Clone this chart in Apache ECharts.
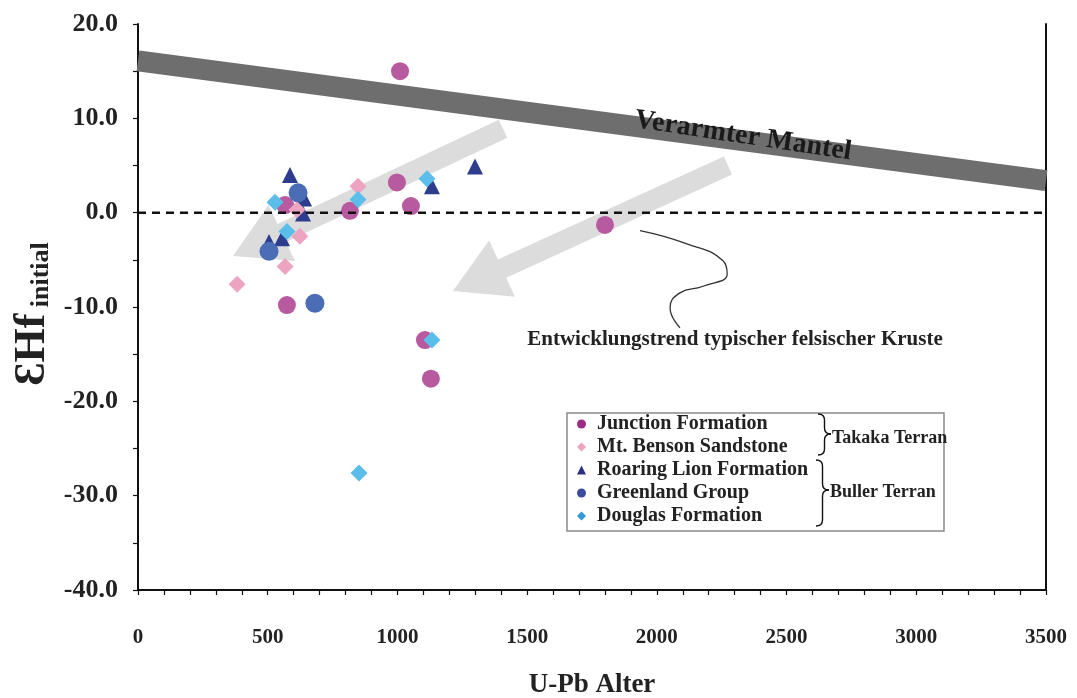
<!DOCTYPE html>
<html>
<head>
<meta charset="utf-8">
<script src="https://cdn.jsdelivr.net/npm/echarts@6/dist/echarts.min.js"></script>
<style>
  html, body { margin: 0; padding: 0; background: #fff; }
  #chart { width: 1077px; height: 698px; }
</style>
</head>
<body>
<div id="chart"></div>
<script>
// U-Pb age (Ma) vs. initial epsilon-Hf for detrital zircons
const junctionFormation = [
  [1010, 15.0], [998, 3.2], [817, 0.2], [1052, 0.7], [567, 0.8],
  [1800, -1.3], [574, -9.8], [1106, -13.5], [1129, -17.6]
];
const mtBensonSandstone = [
  [848, 2.8], [613, 0.3], [624, -2.5], [567, -5.7], [382, -7.6]
];
const roaringLionFormation = [
  [586, 4.0], [640, 1.5], [636, -0.1], [555, -2.7], [505, -3.1],
  [1133, 2.8], [1299, 4.9]
];
const greenlandGroup = [
  [617, 2.1], [505, -4.1], [682, -9.6]
];
const douglasFormation = [
  [528, 1.1], [574, -2.0], [848, 1.4], [1114, 3.6], [1133, -13.5], [852, -27.6]
];

// Depleted mantle reference line (age, eHf)
const depletedMantle = [[0, 16.1], [3500, 3.4]];
// Crustal evolution trend arrows: [tailAge, tailHf, tipAge, tipHf]
const trendArrows = [
  [1407, 8.9, 366, -4.6],
  [2274, 5.0, 1214, -8.3]
];
// Leader curve from the trend label up to the arrow
const leaderCurve = [
  [1935, -1.9], [2116, -3.3], [2255, -5.1], [2271, -6.5], [2178, -7.8],
  [2089, -8.5], [2051, -10.1], [2089, -12.2]
];
const zeroLine = [[0, 0], [3500, 0]];

const xTicks = { min: 0, max: 3500, step: 500 };
const yTicks = { min: -40, max: 20, step: 10 };

const serif = '"Liberation Serif", "Times New Roman", serif';

const chart = echarts.init(document.getElementById('chart'), null, { renderer: 'canvas' });

function arrowItem(params, api) {
  const p0 = api.coord([api.value(0), api.value(1)]);
  const p1 = api.coord([api.value(2), api.value(3)]);
  const dx = p1[0] - p0[0], dy = p1[1] - p0[1];
  const len = Math.sqrt(dx * dx + dy * dy);
  const ux = dx / len, uy = dy / len;
  const nx = -uy, ny = ux;
  const w = 10, hw = 31, hl = 54;
  const bx = p1[0] - ux * hl, by = p1[1] - uy * hl;
  const pts = [
    [p0[0] + nx * w, p0[1] + ny * w],
    [bx + nx * w, by + ny * w],
    [bx + nx * hw, by + ny * hw],
    [p1[0], p1[1]],
    [bx - nx * hw, by - ny * hw],
    [bx - nx * w, by - ny * w],
    [p0[0] - nx * w, p0[1] - ny * w]
  ];
  return { type: 'polygon', shape: { points: pts }, style: { fill: '#dcdcdc' } };
}

// Curly brace built from quadratic curves and straight segments
function brace(x, top, bottom, tipY, w) {
  const m = x + w / 2, r = 6;
  const st = { stroke: '#111', lineWidth: 1.4, fill: null };
  const q = (x1, y1, cx, cy, x2, y2) => ({ type: 'bezierCurve', z: 20,
    shape: { x1: x1, y1: y1, cpx1: cx, cpy1: cy, x2: x2, y2: y2 }, style: st });
  const l = (x1, y1, x2, y2) => ({ type: 'line', z: 20,
    shape: { x1: x1, y1: y1, x2: x2, y2: y2 }, style: st });
  return [
    q(x, top, m, top, m, top + r),
    l(m, top + r, m, tipY - r),
    q(m, tipY - r, m, tipY, x + w, tipY),
    q(x + w, tipY, m, tipY, m, tipY + r),
    l(m, tipY + r, m, bottom - r),
    q(m, bottom - r, m, bottom, x, bottom)
  ];
}

const axisCommon = {
  axisLine: { show: true, onZero: false, lineStyle: { color: '#111', width: 2 } },
  axisTick: { show: true, length: 5, lineStyle: { color: '#111', width: 1.2 } },
  minorTick: { show: true, length: 5, lineStyle: { color: '#111', width: 1.2 } },
  splitLine: { show: false },
  minorSplitLine: { show: false }
};

const option = {
  backgroundColor: '#ffffff',
  animation: false,
  grid: { left: 138, right: 31, top: 24, bottom: 108, containLabel: false, outerBoundsMode: 'none' },
  xAxis: Object.assign({}, axisCommon, {
    type: 'value', min: xTicks.min, max: xTicks.max, interval: xTicks.step,
    minorTick: Object.assign({}, axisCommon.minorTick, { splitNumber: 5 }),
    axisLabel: { margin: 37, fontFamily: serif, fontWeight: 'bold', fontSize: 21, color: '#222',
      formatter: v => String(v) },
    name: 'U-Pb Alter', nameLocation: 'middle', nameGap: 82,
    nameTextStyle: { fontFamily: serif, fontWeight: 'bold', fontSize: 27, color: '#222' }
  }),
  yAxis: [
    Object.assign({}, axisCommon, {
      type: 'value', min: yTicks.min, max: yTicks.max, interval: yTicks.step,
      minorTick: Object.assign({}, axisCommon.minorTick, { splitNumber: 2 }),
      axisLabel: { margin: 20, fontFamily: serif, fontWeight: 'bold', fontSize: 26, color: '#222',
        formatter: v => v.toFixed(1) }
    }),
    {
      type: 'value', position: 'right', min: yTicks.min, max: yTicks.max, interval: yTicks.step,
      axisLine: { show: true, onZero: false, lineStyle: { color: '#111', width: 2 } },
      axisTick: { show: false }, axisLabel: { show: false }, splitLine: { show: false }
    }
  ],
  legend: {
    orient: 'vertical', left: 577, top: 414, z: 10,
    itemWidth: 9, itemHeight: 9, itemGap: 3, padding: 0,
    textStyle: { fontFamily: serif, fontWeight: 'bold', fontSize: 20, color: '#222', lineHeight: 18, padding: [0, 0, 0, 6] },
    data: [
      { name: 'Junction Formation', icon: 'circle', itemStyle: { color: '#9e2b86' } },
      { name: 'Mt. Benson Sandstone', icon: 'diamond', itemStyle: { color: '#eea3c0' } },
      { name: 'Roaring Lion Formation', icon: 'triangle', itemStyle: { color: '#2b2f80' } },
      { name: 'Greenland Group', icon: 'circle', itemStyle: { color: '#3d4c9e' } },
      { name: 'Douglas Formation', icon: 'diamond', itemStyle: { color: '#3498d8' } }
    ]
  },
  graphic: [
    { type: 'rect', z: 1, shape: { x: 567, y: 413, width: 377, height: 118 },
      style: { fill: '#fff', stroke: '#8a8a8a', lineWidth: 1.5 } }
  ].concat(brace(818, 414, 455, 434, 13), brace(816, 460, 526, 490, 13), [
    { type: 'text', z: 12, x: 832, y: 438,
      style: { text: 'Takaka Terran', font: 'bold 18px ' + serif, fill: '#222', textVerticalAlign: 'middle' } },
    { type: 'text', z: 12, x: 830, y: 492,
      style: { text: 'Buller Terran', font: 'bold 18px ' + serif, fill: '#222', textVerticalAlign: 'middle' } },
    { type: 'text', z: 12, x: 735, y: 340,
      style: { text: 'Entwicklungstrend typischer felsischer Kruste', font: 'bold 21px ' + serif,
        fill: '#222', textAlign: 'center', textVerticalAlign: 'middle' } },
    { type: 'text', z: 12, x: 743, y: 136, rotation: -0.149,
      style: { text: 'Verarmter Mantel', font: 'bold 28px ' + serif, fill: '#1a1a1a',
        textAlign: 'center', textVerticalAlign: 'middle' } },
    { type: 'text', z: 12, x: 33, y: 314, rotation: Math.PI / 2,
      style: {
        text: '{a|ƐHf}{b| initial}', textAlign: 'center', textVerticalAlign: 'middle',
        rich: {
          a: { fontFamily: serif, fontWeight: 'bold', fontSize: 44, fill: '#222', lineHeight: 42 },
          b: { fontFamily: serif, fontWeight: 'bold', fontSize: 26, fill: '#222', lineHeight: 42, verticalAlign: 'bottom', padding: [12, 0, 0, 0] }
        }
      } }
  ]),
  series: [
    {
      name: 'Verarmter Mantel', type: 'line', data: depletedMantle, symbol: 'none', silent: true,
      lineStyle: { color: '#6e6e6e', width: 21 }, z: 1, clip: true
    },
    {
      name: 'trend', type: 'custom', data: trendArrows, renderItem: arrowItem, silent: true,
      encode: { x: [0, 2], y: [1, 3] }, z: 2, clip: true
    },
    {
      name: 'leader', type: 'line', data: leaderCurve, smooth: 0.5, symbol: 'none', silent: true,
      lineStyle: { color: '#333', width: 1.3 }, z: 3
    },
    {
      name: 'Junction Formation', type: 'scatter', data: junctionFormation, symbol: 'circle', symbolSize: 18,
      itemStyle: { color: '#b75aa0', opacity: 1 }, z: 5
    },
    {
      name: 'Mt. Benson Sandstone', type: 'scatter', data: mtBensonSandstone, symbol: 'diamond', symbolSize: 17,
      itemStyle: { color: '#eca4c1', opacity: 1 }, z: 5
    },
    {
      name: 'Roaring Lion Formation', type: 'scatter', data: roaringLionFormation, symbol: 'triangle', symbolSize: 16,
      itemStyle: { color: '#2d3c8c', opacity: 1 }, z: 4
    },
    {
      name: 'Greenland Group', type: 'scatter', data: greenlandGroup, symbol: 'circle', symbolSize: 19,
      itemStyle: { color: '#4a6db5', opacity: 1 }, z: 5
    },
    {
      name: 'Douglas Formation', type: 'scatter', data: douglasFormation, symbol: 'diamond', symbolSize: 17,
      itemStyle: { color: '#5bbde9', opacity: 1 }, z: 6
    },
    {
      name: 'zero', type: 'line', data: zeroLine, symbol: 'none', silent: true,
      lineStyle: { color: '#111', width: 2.5, type: [8, 6] }, z: 8
    }
  ]
};

chart.setOption(option);
</script>
</body>
</html>
